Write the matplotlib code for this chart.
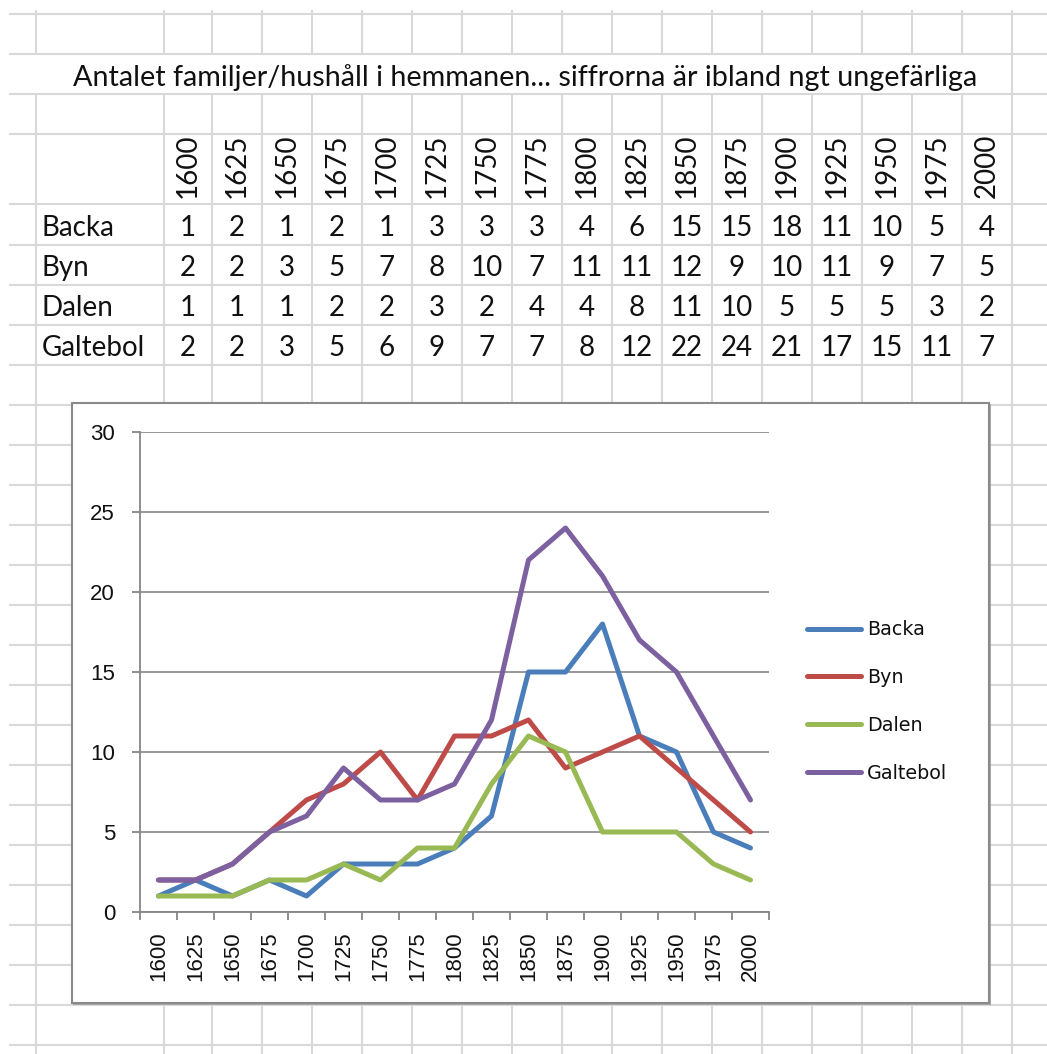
import matplotlib
matplotlib.use("Agg")
import matplotlib.pyplot as plt
from matplotlib.patches import Rectangle

# ---------------- data ----------------
years = ["1600", "1625", "1650", "1675", "1700", "1725", "1750", "1775", "1800",
         "1825", "1850", "1875", "1900", "1925", "1950", "1975", "2000"]
series_names = ["Backa", "Byn", "Dalen", "Galtebol"]
backa = [1, 2, 1, 2, 1, 3, 3, 3, 4, 6, 15, 15, 18, 11, 10, 5, 4]
byn = [2, 2, 3, 5, 7, 8, 10, 7, 11, 11, 12, 9, 10, 11, 9, 7, 5]
dalen = [1, 1, 1, 2, 2, 3, 2, 4, 4, 8, 11, 10, 5, 5, 5, 3, 2]
galtebol = [2, 2, 3, 5, 6, 9, 7, 7, 8, 12, 22, 24, 21, 17, 15, 11, 7]
title = "Antalet familjer/hushåll i hemmanen... siffrorna är ibland ngt ungefärliga"
y_ticks = [0, 5, 10, 15, 20, 25, 30]

series_values = [backa, byn, dalen, galtebol]
colors = ["#4A7EBB", "#BE4B48", "#98B954", "#7D60A0"]

W, H = 1047, 1054
fig = plt.figure(figsize=(W / 100, H / 100), dpi=100)
fig.patch.set_facecolor("white")

# ---------------- spreadsheet background ----------------
bg = fig.add_axes([0, 0, 1, 1])
bg.set_xlim(0, W)
bg.set_ylim(H, 0)
bg.axis("off")

grid_c = "#d9d9d9"
grid_lw = 1.5
col_lines = [36, 164] + [212 + 50 * k for k in range(17)]
row_lines = [14, 54, 94, 134, 204] + [245 + 40 * k for k in range(21)]

for y in row_lines:
    bg.plot([9, W], [y, y], color=grid_c, lw=grid_lw, zorder=1, solid_capstyle="butt")
for x in col_lines:
    if x == 1012:
        bg.plot([x, x], [10, H], color=grid_c, lw=grid_lw, zorder=1, solid_capstyle="butt")
    else:
        bg.plot([x, x], [10, 54], color=grid_c, lw=grid_lw, zorder=1, solid_capstyle="butt")
        bg.plot([x, x], [94, H], color=grid_c, lw=grid_lw, zorder=1, solid_capstyle="butt")

tfont = "Lato"
tsize = 20
bg.text(525, 86, title, ha="center", va="baseline", fontsize=20.7,
        family=tfont, color="#111111", zorder=2)

col_centers = [188] + [237 + 50 * k for k in range(16)]
for xc, yr in zip(col_centers, years):
    bg.text(xc, 198, yr, rotation=90, ha="center", va="bottom", fontsize=tsize,
            family=tfont, color="#111111", zorder=2)

for i, (name, vals) in enumerate(zip(series_names, series_values)):
    yb = 236 + 40 * i
    bg.text(42, yb, name, ha="left", va="baseline", fontsize=tsize,
            family=tfont, color="#111111", zorder=2)
    for xc, v in zip(col_centers, vals):
        bg.text(xc, yb, str(v), ha="center", va="baseline", fontsize=tsize,
                family=tfont, color="#111111", zorder=2)

# chart box (with slight shadow)
bg.add_patch(Rectangle((73, 404), 918, 601, facecolor="#a8a8a8", edgecolor="none", zorder=3))
bg.add_patch(Rectangle((72, 403), 917, 600, facecolor="white", edgecolor="#8a8a8a",
                       lw=1.5, zorder=4))

# ---------------- chart ----------------
px0, px1 = 140, 769
py_top, py_bot = 432, 912
ax = fig.add_axes([px0 / W, 1 - py_bot / H, (px1 - px0) / W, (py_bot - py_top) / H])
ax.set_facecolor("none")
x = list(range(len(years)))
for name, vals, c in zip(series_names, series_values, colors):
    ax.plot(x, vals, color=c, lw=3.6, label=name, solid_joinstyle="round",
            solid_capstyle="round", zorder=3)

ax.set_xlim(-0.5, len(years) - 0.5)
ax.set_ylim(0, 30)
axis_c = "#868686"
for s in ["top", "right"]:
    ax.spines[s].set_visible(False)
for s in ["left", "bottom"]:
    ax.spines[s].set_color(axis_c)
    ax.spines[s].set_linewidth(1.3)

ax.set_yticks(y_ticks)
ax.set_yticklabels([str(v) for v in y_ticks], family="Liberation Sans", fontsize=16,
                   color="#111111")
ax.yaxis.grid(True, color=axis_c, lw=1.2)
ax.set_axisbelow(True)
ax.tick_params(axis="y", length=6, width=1.3, color=axis_c, pad=12, direction="out")

ax.set_xticks(x)
ax.set_xticklabels(years, rotation=90, family="Liberation Sans", fontsize=16,
                   color="#111111")
ax.set_xticks([i - 0.5 for i in range(len(years) + 1)], minor=True)
ax.tick_params(axis="x", which="major", length=0, pad=14)
ax.tick_params(axis="x", which="minor", length=6, width=1.3, color=axis_c, direction="out")

leg = ax.legend(loc="center left", bbox_to_anchor=(807 / W, 1 - 701.5 / H),
                bbox_transform=fig.transFigure, frameon=False,
                prop={"family": "DejaVu Sans", "size": 13.8},
                handlelength=2.8, handletextpad=0.35, labelspacing=1.5,
                borderpad=0, borderaxespad=0)
for t in leg.get_texts():
    t.set_color("#111111")

fig.savefig("out.png", dpi=100, facecolor="white")
